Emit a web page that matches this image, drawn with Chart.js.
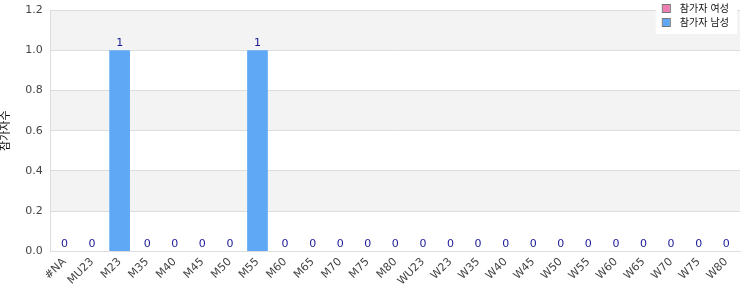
<!DOCTYPE html>
<html>
<head>
<meta charset="utf-8">
<script src="https://cdn.jsdelivr.net/npm/chart.js@4/dist/chart.umd.min.js"></script>
<style>
html,body{margin:0;padding:0;background:#fff;}
#wrap{width:750px;height:300px;position:relative;}
</style>
</head>
<body>
<div id="wrap"><canvas id="c" width="750" height="300"></canvas></div>
<script>
const categories = ['#NA','MU23','M23','M35','M40','M45','M50','M55','M60','M65','M70','M75','M80','WU23','W23','W35','W40','W45','W50','W55','W60','W65','W70','W75','W80'];
const femaleValues = [0,0,0,0,0,0,0,0,0,0,0,0,0,0,0,0,0,0,0,0,0,0,0,0,0];
const maleValues   = [0,0,1,0,0,0,0,1,0,0,0,0,0,0,0,0,0,0,0,0,0,0,0,0,0];
const yTicks = [0,0.2,0.4,0.6,0.8,1.0,1.2];
const seriesNames = ['참가자 여성','참가자 남성'];
const yTitle = '참가자수';

const FONT = "'DejaVu Sans', 'Noto Sans CJK KR', sans-serif";

const bandPlugin = {
  id: 'bands',
  beforeDraw(chart) {
    const {ctx, chartArea: a, scales: {y}} = chart;
    ctx.save();
    for (let i = 0; i < yTicks.length - 1; i++) {
      if (i % 2 === 1) {
        const top = y.getPixelForValue(yTicks[i + 1]);
        const bot = y.getPixelForValue(yTicks[i]);
        ctx.fillStyle = '#f3f3f3';
        ctx.fillRect(a.left, top, a.right - a.left, bot - top);
      }
    }
    ctx.restore();
  }
};

const labelPlugin = {
  id: 'vlabels',
  afterDatasetsDraw(chart) {
    const {ctx} = chart;
    const meta = chart.getDatasetMeta(1);
    ctx.save();
    ctx.fillStyle = '#1a1a9a';
    ctx.font = '11px ' + FONT;
    ctx.textAlign = 'center';
    ctx.textBaseline = 'bottom';
    meta.data.forEach((bar, i) => {
      const v = maleValues[i] + femaleValues[i];
      ctx.fillText(String(v), bar.x, bar.y - 2);
    });
    ctx.restore();
  }
};

const legendPlugin = {
  id: 'boxlegend',
  afterDraw(chart) {
    const {ctx} = chart;
    const colors = ['#f07cb4', '#5fa8f5'];
    ctx.save();
    ctx.font = '10px ' + FONT;
    const tw = Math.max(...seriesNames.map(n => ctx.measureText(n).width));
    const right = 737;
    const boxW = Math.max(70, tw + 32);
    const left = right - boxW;
    ctx.fillStyle = '#ffffff';
    ctx.fillRect(left, 0, boxW, 34);
    ctx.textBaseline = 'middle';
    ctx.textAlign = 'left';
    seriesNames.forEach((name, i) => {
      const cy = 9 + i * 14;
      ctx.fillStyle = colors[i];
      ctx.fillRect(left + 7, cy - 4, 7, 7);
      ctx.strokeStyle = '#777';
      ctx.lineWidth = 1;
      ctx.strokeRect(left + 6.5, cy - 4.5, 8, 8);
      ctx.fillStyle = '#111';
      ctx.fillText(name, left + 24, cy);
    });
    ctx.restore();
  }
};

new Chart(document.getElementById('c'), {
  type: 'bar',
  data: {
    labels: categories,
    datasets: [
      {label: seriesNames[0], data: femaleValues, backgroundColor: '#f07cb4', stack: 's', categoryPercentage: 0.75, barPercentage: 1.0},
      {label: seriesNames[1], data: maleValues, backgroundColor: '#5fa8f5', stack: 's', categoryPercentage: 0.75, barPercentage: 1.0}
    ]
  },
  options: {
    responsive: false,
    animation: false,
    layout: {padding: {top: 10, right: 10, left: 0, bottom: 8}},
    plugins: {legend: {display: false}, tooltip: {enabled: false}},
    scales: {
      x: {
        stacked: true,
        grid: {display: false, drawTicks: false},
        border: {color: '#dddddd'},
        ticks: {color: '#444', font: {size: 11, family: FONT}, maxRotation: 45, minRotation: 45, autoSkip: false, padding: 4}
      },
      y: {
        stacked: true,
        min: 0, max: 1.2,
        afterBuildTicks(s) { s.ticks = yTicks.map(v => ({value: v})); },
        afterFit(s) { s.paddingTop = 0; },
        grid: {color: '#dddddd', drawTicks: false},
        border: {color: '#dddddd'},
        ticks: {color: '#444', font: {size: 11, family: FONT}, padding: 8, callback: v => Number(v).toFixed(1)},
        title: {display: true, text: yTitle, color: '#111', font: {size: 11, family: FONT}, padding: {top: 0, bottom: 4}}
      }
    }
  },
  plugins: [bandPlugin, labelPlugin, legendPlugin]
});
</script>
</body>
</html>
